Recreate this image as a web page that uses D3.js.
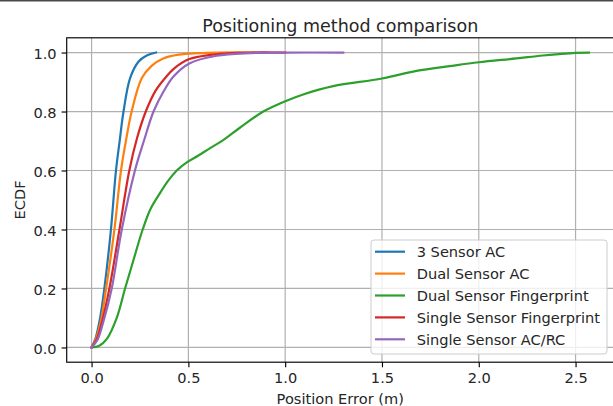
<!DOCTYPE html>
<html>
  <head>
    <meta charset="utf-8">
    <style>
      body { margin: 0; background: white; }
      text { font-family: "DejaVu Sans", sans-serif; fill: #262626; }
    </style>
    <script src="https://d3js.org/d3.v7.min.js"></script>
    <title>ECDF positioning</title>
  </head>
  <body>
    <div id="my_dataviz"></div>

    <script>
    // ---------------- data (error in m, ecdf)
    var SERIES_NAMES = ["3 Sensor AC", "Dual Sensor AC", "Dual Sensor Fingerprint",
                        "Single Sensor Fingerprint", "Single Sensor AC/RC"]
    var COLORS = ["#1f77b4", "#ff7f0e", "#2ca02c", "#d62728", "#9467bd"]

    var ac3_x = [0, 0.02, 0.044, 0.066, 0.10, 0.126, 0.145, 0.165, 0.199, 0.242, 0.285, 0.333]
    var ac3_y = [0, 0.03, 0.1, 0.2, 0.4, 0.6, 0.7, 0.8, 0.913, 0.969, 0.99, 1.0]

    var dualAc_x = [0, 0.02, 0.048, 0.075, 0.118, 0.152, 0.18, 0.207, 0.259, 0.31, 0.37, 0.45, 0.55, 0.65, 0.9]
    var dualAc_y = [0, 0.025, 0.09, 0.2, 0.4, 0.6, 0.71, 0.8, 0.913, 0.955, 0.98, 0.993, 0.998, 1.0, 1.0]

    var dualFp_x = [0, 0.04, 0.08, 0.13, 0.173, 0.218, 0.264, 0.305, 0.35, 0.395, 0.44, 0.49, 0.55, 0.61,
                    0.68, 0.766, 0.887, 1.004, 1.093, 1.248, 1.5, 1.678, 1.85, 2.0, 2.194, 2.331, 2.5, 2.569]
    var dualFp_y = [0, 0.006, 0.03, 0.1, 0.2, 0.3, 0.4, 0.47, 0.52, 0.565, 0.6, 0.627, 0.65, 0.675,
                    0.703, 0.745, 0.8, 0.836, 0.858, 0.886, 0.912, 0.938, 0.954, 0.967, 0.98, 0.99, 0.999, 1.0]

    var singleFp_x = [0, 0.025, 0.055, 0.092, 0.144, 0.195, 0.235, 0.28, 0.33, 0.379, 0.43, 0.505, 0.611, 0.7, 0.818, 1.0]
    var singleFp_y = [0, 0.025, 0.09, 0.2, 0.4, 0.6, 0.71, 0.8, 0.87, 0.913, 0.948, 0.978, 0.992, 0.997, 1.0, 1.0]

    var singleAcRc_x = [0, 0.03, 0.062, 0.104, 0.156, 0.224, 0.27, 0.32, 0.371, 0.422, 0.505, 0.646, 0.818, 0.988, 1.3]
    var singleAcRc_y = [0, 0.025, 0.09, 0.2, 0.4, 0.6, 0.7, 0.8, 0.867, 0.918, 0.963, 0.989, 0.998, 1.0, 1.0]

    var X_TICKS = [0, 0.5, 1.0, 1.5, 2.0, 2.5]
    var Y_TICKS = [0, 0.2, 0.4, 0.6, 0.8, 1.0]
    //-----------

    var W = 613, H = 406
    // axes box (matplotlib-like, right spine falls just off the picture)
    // note: "top" is taken by window.top, so use ax* names
    var axLeft = 66.7, axRight = 613.8, axTop = 37.8, axBottom = 362.2
    var FS = "14.6px"

    var svg = d3.select("#my_dataviz")
      .append("svg")
        .attr("width", W)
        .attr("height", H)

    // dark strip at the very top of the screenshot
    svg.append("rect").attr("x", 0).attr("y", 0).attr("width", W).attr("height", 1.5).attr("fill", "#4a4a4a")

    var x = d3.scaleLinear().domain([-0.1285, 2.6975]).range([axLeft, axRight])
    var y = d3.scaleLinear().domain([-0.05, 1.05]).range([axBottom, axTop])

    // grid
    svg.append("g").selectAll("line").data(X_TICKS).enter().append("line")
      .attr("x1", function(d) { return x(d) }).attr("x2", function(d) { return x(d) })
      .attr("y1", axTop).attr("y2", axBottom)
      .style("stroke", "#b0b0b0").style("stroke-width", 1.2)
    svg.append("g").selectAll("line").data(Y_TICKS).enter().append("line")
      .attr("y1", function(d) { return y(d) }).attr("y2", function(d) { return y(d) })
      .attr("x1", axLeft).attr("x2", axRight)
      .style("stroke", "#b0b0b0").style("stroke-width", 1.2)

    // series lines
    var allX = [ac3_x, dualAc_x, dualFp_x, singleFp_x, singleAcRc_x]
    var allY = [ac3_y, dualAc_y, dualFp_y, singleFp_y, singleAcRc_y]
    var line = d3.line()
      .x(function(d) { return x(d[0]) })
      .y(function(d) { return y(d[1]) })
      .curve(d3.curveCatmullRom.alpha(0.5))

    allX.forEach(function(xs, i) {
      var pts = xs.map(function(v, j) { return [v, allY[i][j]] })
      svg.append("path")
        .datum(pts)
        .attr("d", line)
        .style("fill", "none")
        .style("stroke", COLORS[i])
        .style("stroke-width", 2.2)
        .style("stroke-linejoin", "round")
        .style("stroke-linecap", "square")
    })

    // axes with d3 axis generators
    var xAxis = svg.append("g")
      .attr("transform", "translate(0," + axBottom + ")")
      .call(d3.axisBottom(x).tickValues(X_TICKS).tickFormat(d3.format(".1f")).tickSize(5.1).tickPadding(5).tickSizeOuter(0))
    var yAxis = svg.append("g")
      .attr("transform", "translate(" + axLeft + ",0)")
      .call(d3.axisLeft(y).tickValues(Y_TICKS).tickFormat(d3.format(".1f")).tickSize(5.1).tickPadding(5).tickSizeOuter(0))

    ;[xAxis, yAxis].forEach(function(a) {
      a.select(".domain").remove()
      a.selectAll("line").style("stroke", "black").style("stroke-width", 1.15)
      a.selectAll("text").style("font-size", FS).style("font-family", "DejaVu Sans").attr("fill", "#262626")
    })
    yAxis.selectAll("text").attr("dy", "0.4em")

    // spines
    svg.append("rect")
      .attr("x", axLeft).attr("y", axTop)
      .attr("width", axRight - axLeft).attr("height", axBottom - axTop)
      .style("fill", "none").style("stroke", "black").style("stroke-width", 1.15)

    // title and axis labels
    svg.append("text")
      .attr("x", (axLeft + axRight) / 2).attr("y", 32)
      .attr("text-anchor", "middle")
      .style("font-size", "17.5px")
      .text("Positioning method comparison")
    svg.append("text")
      .attr("x", (axLeft + axRight) / 2).attr("y", 404)
      .attr("text-anchor", "middle")
      .style("font-size", FS)
      .text("Position Error (m)")
    svg.append("text")
      .attr("transform", "translate(24.5," + (axTop + axBottom) / 2 + ") rotate(-90)")
      .attr("text-anchor", "middle")
      .style("font-size", FS)
      .text("ECDF")

    // legend
    var lg = svg.append("g")
    lg.append("rect")
      .attr("x", 371).attr("y", 240).attr("width", 236).attr("height", 114)
      .attr("rx", 3)
      .style("fill", "white").style("fill-opacity", 0.8)
      .style("stroke", "#cccccc").style("stroke-width", 1)
    SERIES_NAMES.forEach(function(name, i) {
      var yy = 251.7 + i * 21.9
      lg.append("line")
        .attr("x1", 375).attr("x2", 405).attr("y1", yy).attr("y2", yy)
        .style("stroke", COLORS[i]).style("stroke-width", 2.2)
      lg.append("text")
        .attr("x", 416.7).attr("y", yy + 5.2)
        .style("font-size", FS)
        .text(name)
    })
    </script>
  </body>
</html>
